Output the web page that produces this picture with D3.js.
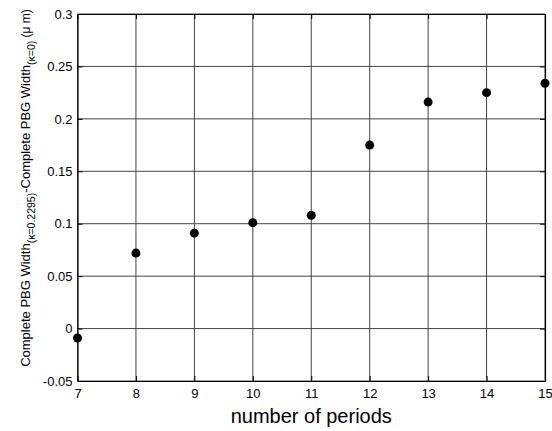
<!DOCTYPE html>
<html><head><meta charset="utf-8">
<script src="https://cdn.jsdelivr.net/npm/d3@7"></script>
<style>body{margin:0;background:#fff;} text{font-family:"Liberation Sans",Arial,sans-serif;}</style>
</head><body>
<svg id="c" width="552" height="431"></svg>
<script>
const periods = [7, 8, 9, 10, 11, 12, 13, 14, 15];
const widthDiff = [-0.009, 0.072, 0.091, 0.101, 0.108, 0.175, 0.216, 0.225, 0.234];
const xTicks = [7, 8, 9, 10, 11, 12, 13, 14, 15];
const yTicks = [-0.05, 0, 0.05, 0.1, 0.15, 0.2, 0.25, 0.3];
const yTickLabels = ["-0.05", "0", "0.05", "0.1", "0.15", "0.2", "0.25", "0.3"];

const svg = d3.select("#c");
const L = 77.5, R = 545, T = 14, B = 381;
const x = d3.scaleLinear().domain([7, 15]).range([L, R]);
const y = d3.scaleLinear().domain([-0.05, 0.3]).range([B, T]);

// grid
const g = svg.append("g");
g.selectAll(".vg").data(xTicks).enter().append("line")
  .attr("x1", d => x(d)).attr("x2", d => x(d)).attr("y1", T).attr("y2", B)
  .attr("stroke", "#444").attr("stroke-width", 1);
g.selectAll(".hg").data(yTicks).enter().append("line")
  .attr("x1", L).attr("x2", R).attr("y1", d => y(d)).attr("y2", d => y(d))
  .attr("stroke", "#444").attr("stroke-width", 1);

// axes with inward ticks
const xAxisB = d3.axisBottom(x).tickValues(xTicks).tickSizeInner(-5).tickSizeOuter(0).tickPadding(8).tickFormat(d3.format("d"));
const xAxisT = d3.axisTop(x).tickValues(xTicks).tickSizeInner(-5).tickSizeOuter(0).tickFormat("");
const yAxisL = d3.axisLeft(y).tickValues(yTicks).tickSizeInner(-5).tickSizeOuter(0).tickPadding(5)
  .tickFormat((d, i) => yTickLabels[i]);
const yAxisR = d3.axisRight(y).tickValues(yTicks).tickSizeInner(-5).tickSizeOuter(0).tickFormat("");

function style(sel) {
  sel.select(".domain").attr("stroke", "#000").attr("stroke-width", 1.2);
  sel.selectAll(".tick line").attr("stroke", "#000");
  sel.selectAll("text").attr("fill", "#000").style("font-size", "13px").style("font-family", "Liberation Sans, Arial, sans-serif");
}
svg.append("g").attr("transform", `translate(0,${B})`).call(xAxisB).call(style);
svg.append("g").attr("transform", `translate(0,${T})`).call(xAxisT).call(style);
svg.append("g").attr("transform", `translate(${L},0)`).call(yAxisL).call(style);
svg.append("g").attr("transform", `translate(${R},0)`).call(yAxisR).call(style);

// points
svg.append("g").selectAll("circle").data(periods).enter().append("circle")
  .attr("cx", d => x(d)).attr("cy", (d, i) => y(widthDiff[i])).attr("r", 4.5).attr("fill", "#000");

// x label
svg.append("text").attr("x", (L + R) / 2).attr("y", 423).attr("text-anchor", "middle")
  .style("font-size", "20px").attr("fill", "#000").text("number of periods");

// y label
const yl = svg.append("text").attr("transform", "translate(30,188) rotate(-90)")
  .attr("text-anchor", "middle").style("font-size", "13px").attr("fill", "#000");
yl.append("tspan").text("Complete PBG Width");
yl.append("tspan").attr("dy", 5).style("font-size", "10.5px").text("(κ=0.2295)");
yl.append("tspan").attr("dy", -5).text("-Complete PBG Width");
yl.append("tspan").attr("dy", 5).style("font-size", "10.5px").text("(κ=0)");
yl.append("tspan").attr("dy", -5).style("font-size", "12px").text(" (μ m)");
</script>
</body></html>
